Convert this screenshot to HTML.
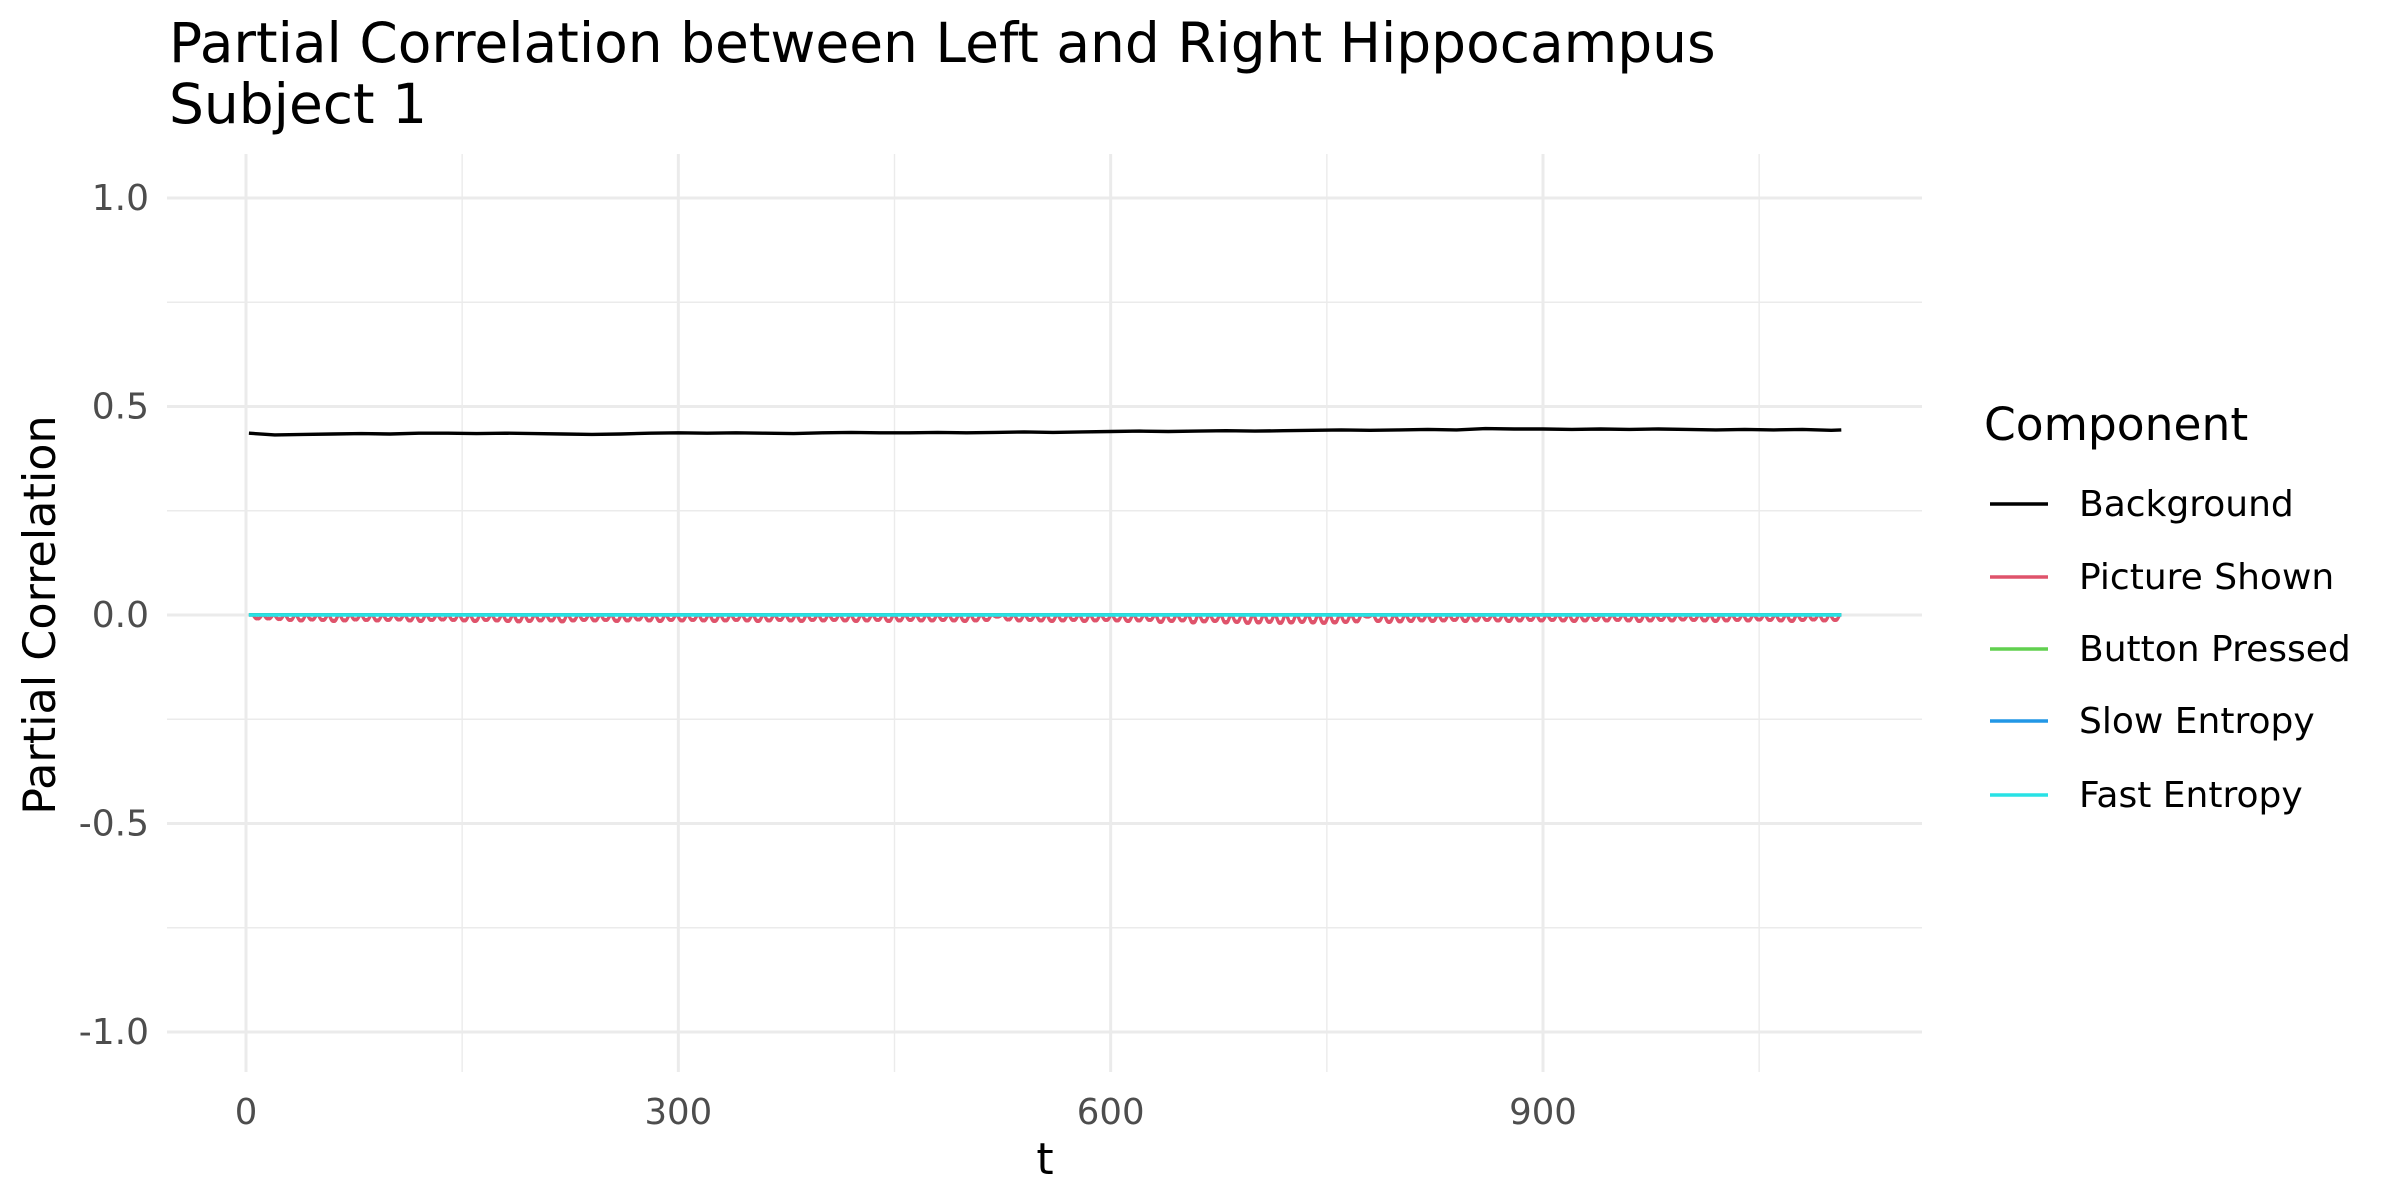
<!DOCTYPE html>
<html><head><meta charset="utf-8"><style>
html,body{margin:0;padding:0;background:#fff;}
svg{display:block;font-family:"DejaVu Sans","Liberation Sans",sans-serif;}
</style></head><body>
<svg id="chart" width="2400" height="1200" viewBox="0 0 2400 1200">
<text x="169" y="62" font-size="55" fill="#000">Partial Correlation between Left and Right Hippocampus</text>
<text x="169" y="123" font-size="55" fill="#000">Subject 1</text>
<g id="grid"></g>
<g id="series"></g>
<g id="axes"></g>
<text x="0" y="0" transform="translate(55,615) rotate(-90)" text-anchor="middle" font-size="44.5" fill="#000">Partial Correlation</text>
<text x="1045" y="1174" text-anchor="middle" font-size="44" fill="#000">t</text>
<g id="legend">
<text x="1984" y="440" font-size="45.5" fill="#000">Component</text>
</g>
</svg>
<script>
const yTicks=[-1,-0.5,0,0.5,1];
const yTickLabels=["-1.0","-0.5","0.0","0.5","1.0"];
const yMinor=[-0.75,-0.25,0.25,0.75];
const xTicks=[0,300,600,900];
const xTickLabels=["0","300","600","900"];
const xMinor=[150,450,750,1050];
const seriesNames=["Background","Picture Shown","Button Pressed","Slow Entropy","Fast Entropy"];
const seriesColors=["#000000","#DF536B","#61D04F","#2297E6","#28E2E5"];
const bgT=[2,20,40,60,80,100,120,140,160,180,200,220,240,260,280,300,320,340,360,380,400,420,440,460,480,500,520,540,560,580,600,620,640,660,680,700,720,740,760,780,800,820,840,860,880,900,920,940,960,980,1000,1020,1040,1060,1080,1100,1107];
const bgV=[0.436,0.432,0.433,0.434,0.435,0.434,0.436,0.436,0.435,0.436,0.435,0.434,0.433,0.434,0.436,0.437,0.436,0.437,0.436,0.435,0.437,0.438,0.437,0.437,0.438,0.437,0.438,0.439,0.438,0.439,0.440,0.441,0.440,0.441,0.442,0.441,0.442,0.443,0.444,0.443,0.444,0.445,0.444,0.447,0.446,0.446,0.445,0.446,0.445,0.446,0.445,0.444,0.445,0.444,0.445,0.443,0.444];
const picStart=8, picStep=7.55;
const picDips=[-0.008,-0.008,-0.009,-0.011,-0.012,-0.010,-0.011,-0.013,-0.012,-0.010,-0.011,-0.012,-0.011,-0.010,-0.012,-0.013,-0.011,-0.010,-0.011,-0.012,-0.013,-0.011,-0.012,-0.013,-0.014,-0.013,-0.012,-0.012,-0.014,-0.012,-0.011,-0.012,-0.011,-0.013,-0.012,-0.010,-0.012,-0.013,-0.011,-0.012,-0.011,-0.012,-0.013,-0.012,-0.011,-0.012,-0.013,-0.012,-0.011,-0.012,-0.013,-0.011,-0.012,-0.011,-0.012,-0.013,-0.012,-0.011,-0.013,-0.012,-0.011,-0.012,-0.012,-0.011,-0.012,-0.013,-0.012,-0.011,-0.004,-0.010,-0.012,-0.011,-0.012,-0.013,-0.012,-0.011,-0.013,-0.012,-0.011,-0.012,-0.013,-0.012,-0.011,-0.015,-0.013,-0.012,-0.016,-0.014,-0.013,-0.016,-0.015,-0.017,-0.016,-0.015,-0.017,-0.016,-0.015,-0.016,-0.017,-0.016,-0.015,-0.014,-0.004,-0.013,-0.015,-0.014,-0.013,-0.012,-0.013,-0.012,-0.011,-0.013,-0.012,-0.011,-0.012,-0.013,-0.012,-0.011,-0.012,-0.011,-0.012,-0.013,-0.012,-0.011,-0.012,-0.011,-0.012,-0.013,-0.012,-0.011,-0.012,-0.010,-0.011,-0.012,-0.013,-0.012,-0.011,-0.012,-0.010,-0.011,-0.012,-0.013,-0.011,-0.010,-0.012,-0.011];
const flatT=[2,1107];
const buttonV=[0.001,0.001];
const slowV=[0.0005,0.0005];
const fastV=[0,0];

const NS="http://www.w3.org/2000/svg";
const X0=167,X1=1922,Y0=154,Y1=1072;
function xs(t){return 246+t*(1543-246)/900;}
function ys(v){return 615-v*417;}
function mk(tag,attrs,parent){const e=document.createElementNS(NS,tag);for(const k in attrs)e.setAttribute(k,attrs[k]);parent.appendChild(e);return e;}
const grid=document.getElementById('grid'),axes=document.getElementById('axes'),ser=document.getElementById('series'),leg=document.getElementById('legend');
yMinor.forEach(v=>{const l=mk('line',{x1:X0,x2:X1,y1:ys(v),y2:ys(v),stroke:'#ebebeb','stroke-width':1.4},grid);

});
xMinor.forEach(t=>{const l=mk('line',{x1:xs(t),x2:xs(t),y1:Y0,y2:Y1,stroke:'#ebebeb','stroke-width':1.4},grid);

});
yTicks.forEach((v,i)=>{const l=mk('line',{x1:X0,x2:X1,y1:ys(v),y2:ys(v),stroke:'#ebebeb','stroke-width':3},grid);


const tx=mk('text',{x:149,y:ys(v)+12,'text-anchor':'end','font-size':36,fill:'#4d4d4d'},axes);tx.textContent=yTickLabels[i];

});
xTicks.forEach((t,i)=>{const l=mk('line',{x1:xs(t),x2:xs(t),y1:Y0,y2:Y1,stroke:'#ebebeb','stroke-width':3},grid);


const tx=mk('text',{x:xs(t),y:1124,'text-anchor':'middle','font-size':35.5,fill:'#4d4d4d'},axes);tx.textContent=xTickLabels[i];

});
function linePath(T,V){return T.map((t,i)=>(i?'L':'M')+xs(t).toFixed(1)+','+ys(V[i]).toFixed(1)).join(' ');}
let p=mk('path',{d:linePath(bgT,bgV),fill:'none',stroke:seriesColors[0],'stroke-width':3.4,'stroke-linejoin':'round'},ser);


let d='M'+xs(2).toFixed(1)+','+ys(0).toFixed(1);const h=picStep/2;
picDips.forEach((v,i)=>{const c=picStart+i*picStep;if(c>1107)return;
d+=' L'+xs(c-h*0.8).toFixed(1)+','+ys(0).toFixed(1)+' Q'+xs(c-h*0.2).toFixed(1)+','+ys(v*1.6).toFixed(1)+' '+xs(c).toFixed(1)+','+ys(v).toFixed(1)+' Q'+xs(c+h*0.2).toFixed(1)+','+ys(v*1.6).toFixed(1)+' '+xs(c+h*0.8).toFixed(1)+','+ys(0).toFixed(1);});
d+=' L'+xs(1107).toFixed(1)+','+ys(0).toFixed(1);
p=mk('path',{d:d,fill:'none',stroke:seriesColors[1],'stroke-width':3.4,'stroke-linejoin':'round'},ser);


p=mk('path',{d:linePath(flatT,buttonV),fill:'none',stroke:seriesColors[2],'stroke-width':3.2},ser);


p=mk('path',{d:linePath(flatT,slowV),fill:'none',stroke:seriesColors[3],'stroke-width':3.2},ser);


p=mk('path',{d:linePath(flatT,fastV),fill:'none',stroke:seriesColors[4],'stroke-width':3.4},ser);


const legY=[504,577,649,721,795];
seriesNames.forEach((n,i)=>{const g=mk('g',{},leg);


mk('line',{x1:1990,x2:2048,y1:legY[i],y2:legY[i],stroke:seriesColors[i],'stroke-width':3.4},g);
const tx=mk('text',{x:2079,y:legY[i]+12,'font-size':36,fill:'#000'},g);tx.textContent=n;});
</script>
</body></html>
